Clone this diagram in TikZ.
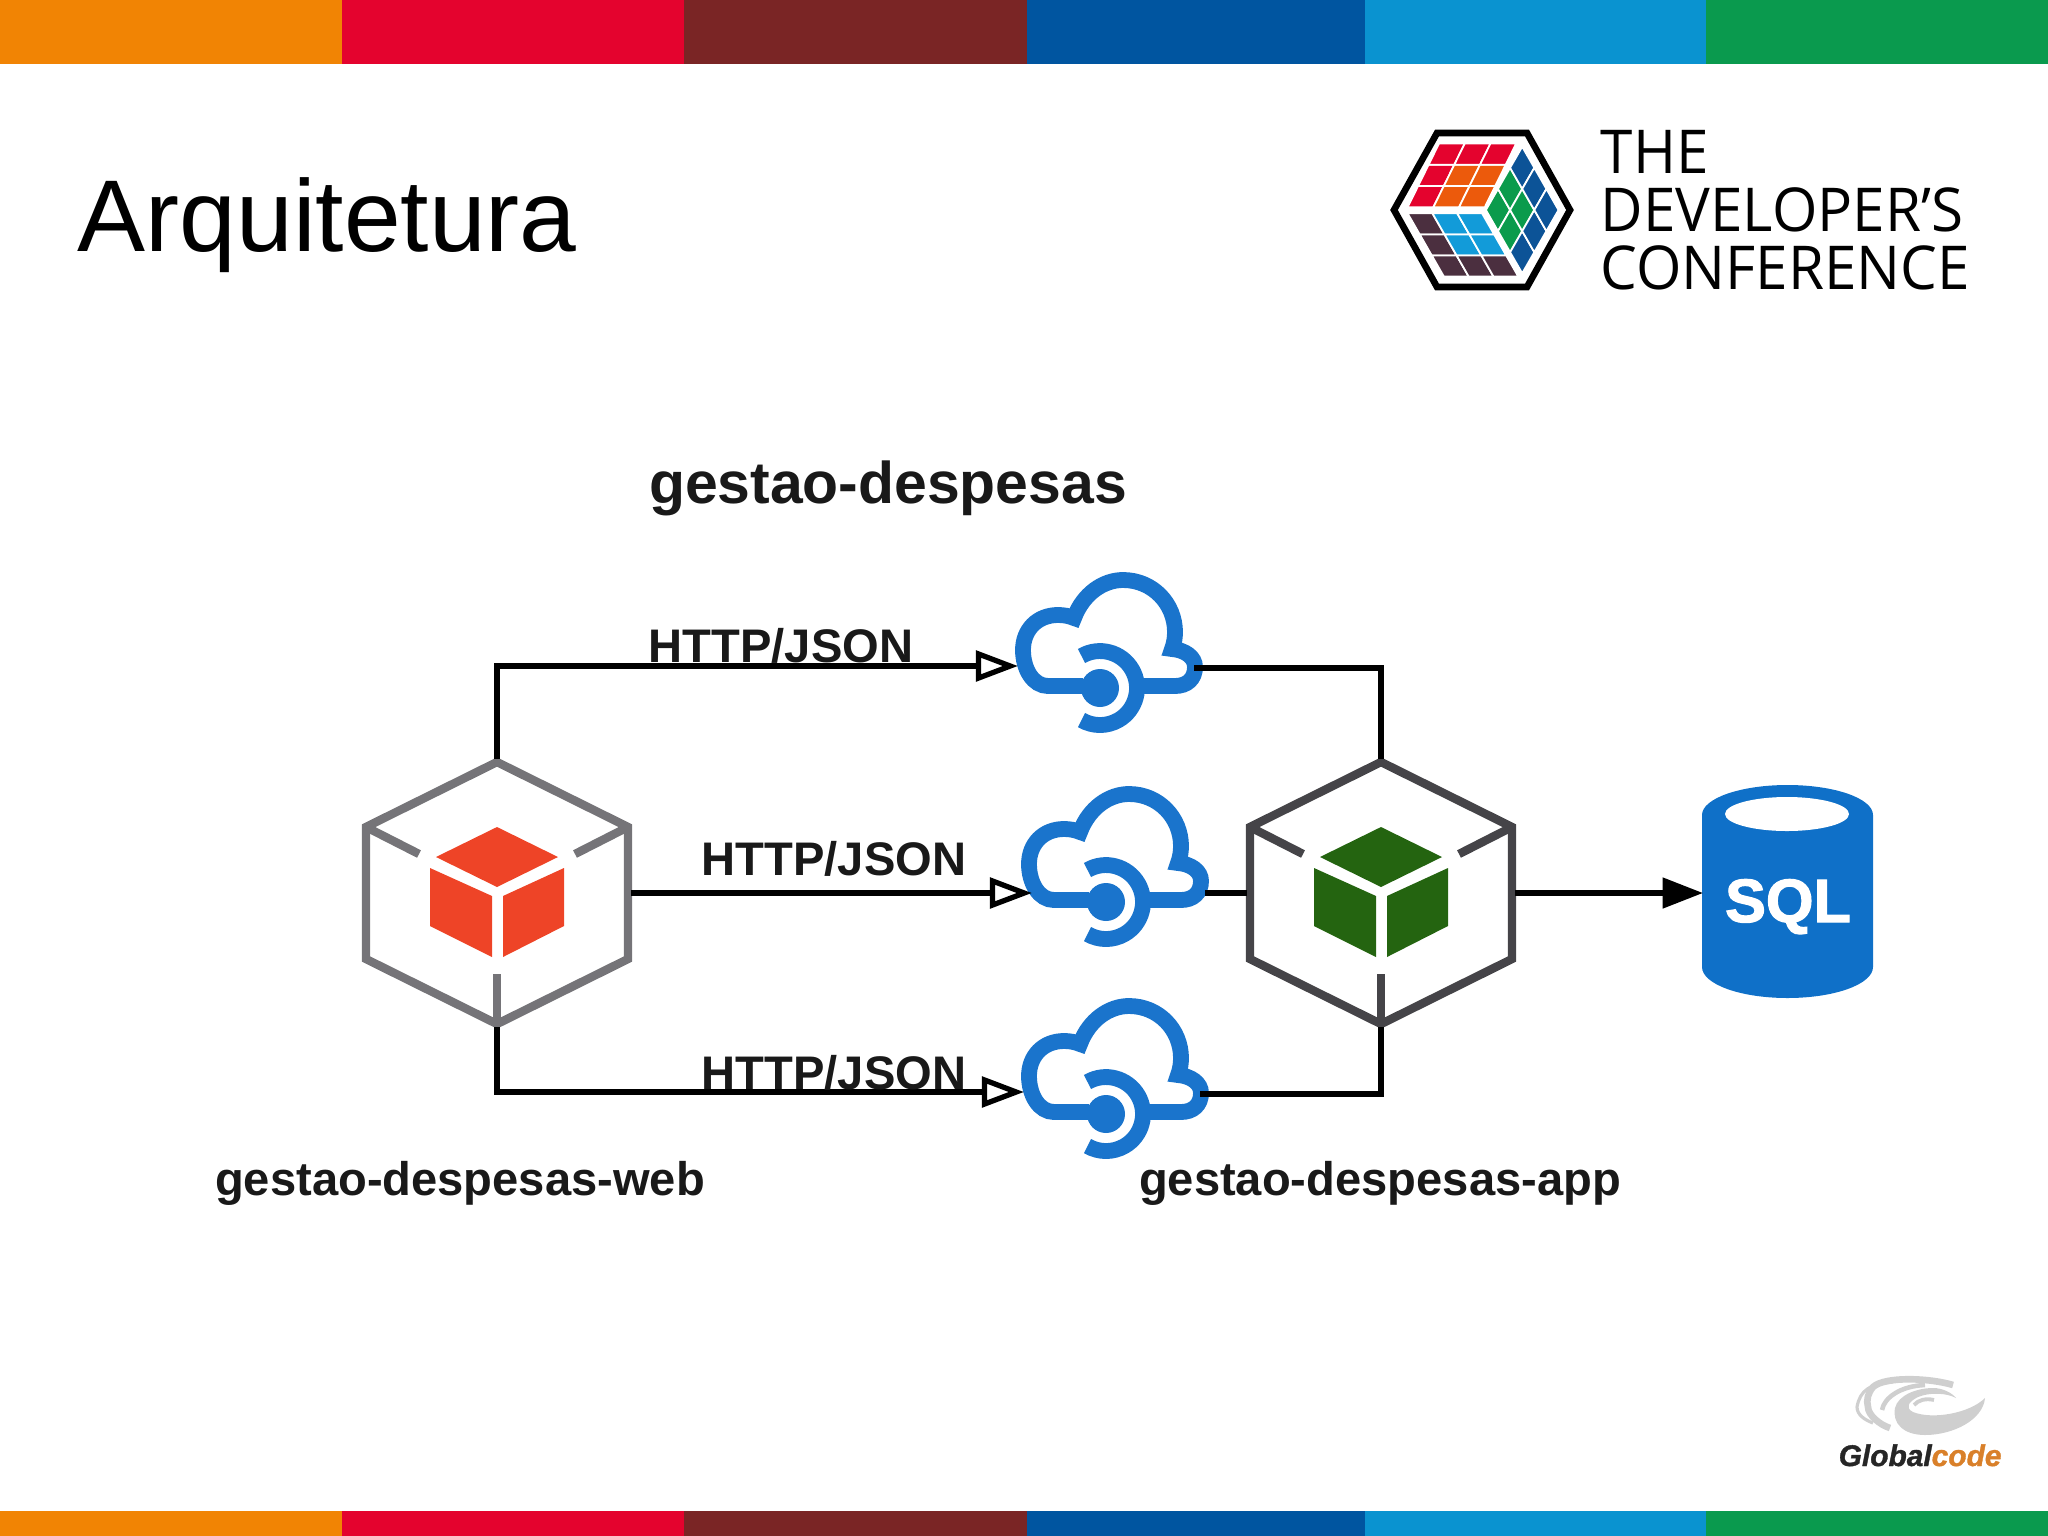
\documentclass[tikz,border=0pt]{standalone}
\usepackage{fontspec}
\setmainfont{Liberation Sans}
\newfontfamily\logofont{Open Sans}
\newfontfamily\sqlfont[FakeBold=2]{Liberation Sans Bold}
\newfontfamily\gcfont[FakeBold=1.2]{Liberation Sans Bold Italic}
\usepackage{xcolor}
\usepackage{tikz}
\usetikzlibrary{
  arrows.meta, positioning
}

% Stripe colours
\definecolor{barorange}{HTML}{F18404}
\definecolor{barred}{HTML}{E4032E}
\definecolor{barbrown}{HTML}{7A2525}
\definecolor{barblue}{HTML}{0055A0}
\definecolor{barcyan}{HTML}{0A93D0}
\definecolor{bargreen}{HTML}{0A9A4E}
% Logo colours
\definecolor{logoorange}{HTML}{EC5A0C}
\definecolor{logoplum}{HTML}{4B2F3F}
\definecolor{logosky}{HTML}{129BD9}
\definecolor{logogreen}{HTML}{0A9B4C}
\definecolor{logonavy}{HTML}{0C5397}
% Icon colours
\definecolor{azureblue}{HTML}{1A74CC}
\definecolor{sqlblue}{HTML}{0F70C8}
\definecolor{webgray}{HTML}{757478}
\definecolor{webred}{HTML}{EE4427}
\definecolor{appgray}{HTML}{454448}
\definecolor{appgreen}{HTML}{246410}
\definecolor{swirlgray}{HTML}{CFCFCF}
\definecolor{gcorange}{HTML}{D9802A}

\tikzset{
  labeltext/.style={font=\fontsize{13.4}{16}\selectfont\bfseries, text=black!90, inner sep=0pt, anchor=base},
  headtext/.style={font=\fontsize{16.75}{20}\selectfont\bfseries, text=black!90, inner sep=0pt, anchor=base},
  logotext/.style={font=\logofont\fontsize{17.2}{20}\selectfont, inner sep=0pt, anchor=base west},
  httpline/.style={line width=1.5pt, -{Triangle[open, fill=white, length=12pt, width=8.6pt]}},
  plainline/.style={line width=1.5pt},
  sqlline/.style={line width=1.5pt, -{Triangle[length=11.5pt, width=8.5pt]}},
  % box in a hexagonal frame: #1 frame colour, #2 fill colour
  pics/cubeicon/.style 2 args={code={
    \draw[#1, line width=2.4pt, line join=miter]
      (0,-131) -- (131,-66) -- (131,66) -- (0,131) -- (-131,66) -- (-131,-66) -- cycle;
    \draw[#1, line width=2.4pt] (-131,-66) -- (-78,-39);
    \draw[#1, line width=2.4pt] (131,-66) -- (78,-39);
    \draw[#1, line width=2.4pt] (0,131) -- (0,81);
    \fill[#2] (0,-66) -- (61,-36) -- (0,-6) -- (-61,-36) -- cycle;
    \fill[#2] (-67,-25) -- (-5,3) -- (-5,64) -- (-67,33) -- cycle;
    \fill[#2] (6,3) -- (67,-25) -- (67,33) -- (6,64) -- cycle;
    \coordinate (-n) at (0,-134);
    \coordinate (-e) at (134,0);
    \coordinate (-s) at (0,134);
    \coordinate (-w) at (-134,0);
  }},
  % cloud with a ring; origin is the centre of the dot
  pics/cloudicon/.style={code={
    \draw[azureblue, line width=4.5pt, line join=miter]
      (-17,-2) -- (-52,-2)
      .. controls (-67,-2) and (-77,-19) .. (-77,-38)
      .. controls (-77,-58) and (-63,-73) .. (-42,-73)
      .. controls (-36,-73) and (-31,-72) .. (-26,-70)
      .. controls (-17,-94) and (3,-108) .. (23,-108)
      .. controls (53,-108) and (75,-84) .. (75,-56)
      .. controls (75,-50) and (74,-44) .. (72,-39)
      .. controls (85,-38) and (95,-31) .. (95,-21)
      .. controls (95,-9) and (87,-2) .. (75,-2)
      -- (43,-2);
    \draw[azureblue, line width=4.5pt] (-18.5,-32) arc[start angle=-120, end angle=120, radius=37];
    \fill[azureblue] (0,0) circle (19);
    \coordinate (-w) at (-82,-22);
    \coordinate (-e) at (94,-20);
    \coordinate (-mw) at (-74,-9);
    \coordinate (-me) at (99,-9);
  }}
}

% one face of the logo cube: origin x y, first step x y, second step x y, cells
\newcommand{\logoface}[7]{
  \foreach \i/\j/\c in {#7} {
    \filldraw[fill=\c, draw=white, line width=0.5pt]
      ({#1+\i*#3+\j*#5},{#2+\i*#4+\j*#6})
      -- ({#1+(\i+1)*#3+\j*#5},{#2+(\i+1)*#4+\j*#6})
      -- ({#1+(\i+1)*#3+(\j+1)*#5},{#2+(\i+1)*#4+(\j+1)*#6})
      -- ({#1+\i*#3+(\j+1)*#5},{#2+\i*#4+(\j+1)*#6})
      -- cycle;
  }
}

\begin{document}
\begin{tikzpicture}[x=0.01cm, y=-0.01cm]
  \useasboundingbox (0,0) rectangle (2048,1536);

  % --- Stripes, top and bottom ----
  \foreach \xa/\xb/\c in {0/342/barorange, 342/684/barred, 684/1027/barbrown,
                          1027/1365/barblue, 1365/1706/barcyan, 1706/2048/bargreen} {
    \fill[\c] (\xa,0) rectangle (\xb,64);
    \fill[\c] (\xa,1511) rectangle (\xb,1536);
  }

  % Title
  \node[font=\fontsize{29}{34}\selectfont, inner sep=0pt, anchor=base west] (title) at (77,251) {Arquitetura};

  % Conference logo
  \draw[line width=1.9pt, line join=miter] (1437,133) -- (1527,133) -- (1570,210) -- (1527,287) -- (1437,287) -- (1394,210) -- cycle;
  \logoface{1407.6}{207.3}{25.7}{0}{10.5}{-21.3}{0/0/barred, 1/0/logoorange, 2/0/logoorange,
    0/1/barred, 1/1/logoorange, 2/1/logoorange, 0/2/barred, 1/2/barred, 2/2/barred}
  \logoface{1407.6}{213.3}{24.8}{0}{12.1}{21.1}{0/0/logoplum, 1/0/logosky, 2/0/logosky,
    0/1/logoplum, 1/1/logosky, 2/1/logosky, 0/2/logoplum, 1/2/logoplum, 2/2/logoplum}
  \logoface{1485.9}{210}{12.1}{-21.1}{12.1}{21.1}{0/0/logogreen, 1/0/logogreen, 2/0/logonavy,
    0/1/logogreen, 1/1/logogreen, 2/1/logonavy, 0/2/logonavy, 1/2/logonavy, 2/2/logonavy}
  \node[logotext] (logoa) at (1600,173) {\scalebox{0.965}[1]{THE}};
  \node[logotext] (logob) at (1600,231) {\scalebox{0.965}[1]{DEVELOPER’S}};
  \node[logotext] (logoc) at (1600,289) {\scalebox{0.965}[1]{CONFERENCE}};

  % --- Diagram ----
  \node[headtext] (system) at (888,503) {gestao-despesas};

  \pic (web) at (497,893) {cubeicon={webgray}{webred}};
  \pic (app) at (1381,893) {cubeicon={appgray}{appgreen}};
  \pic (cloudA) at (1100,688) {cloudicon};
  \pic (cloudB) at (1106,902) {cloudicon};
  \pic (cloudC) at (1106,1114) {cloudicon};

  % Database
  \fill[sqlblue] (1702,815) arc[start angle=180, end angle=360, x radius=85.5, y radius=30]
    -- (1873,967) arc[start angle=0, end angle=180, x radius=85.5, y radius=31] -- cycle;
  \fill[white] (1787,814) ellipse (62 and 17);
  \node[font=\sqlfont\fontsize{17.4}{20}\selectfont, text=white, inner sep=0pt, anchor=base] (sqlname) at (1788,922) {SQL};
  \coordinate (sqlport) at (1703,893);

  % Connectors
  \draw[httpline] (web-n) |- (cloudA-w);
  \draw[httpline] (web-e) -- (cloudB-mw);
  \draw[httpline] (web-s) |- (cloudC-w);
  \draw[plainline] (cloudA-e) -| (app-n);
  \draw[plainline] (cloudB-me) -- (app-w);
  \draw[plainline] (cloudC-e) -| (app-s);
  \draw[sqlline] (app-e) -- (sqlport);

  % Labels
  \node[labeltext] (labela) at (781,662) {HTTP/JSON};
  \node[labeltext] (labelb) at (834,875) {HTTP/JSON};
  \node[labeltext] (labelc) at (834,1089) {HTTP/JSON};
  \node[labeltext] (webname) at (460,1195) {gestao-despesas-web};
  \node[labeltext] (appname) at (1380,1195) {gestao-despesas-app};

  % Sponsor logo
  \draw[swirlgray, line width=0.9pt] (1893,1382) .. controls (1870,1384) and (1860,1390) .. (1857,1407)
    .. controls (1857,1415) and (1865,1420) .. (1873,1423);
  \draw[swirlgray, line width=1.9pt] (1953,1385) .. controls (1930,1378) and (1885,1376) .. (1873,1387)
    .. controls (1868,1393) and (1866,1400) .. (1868,1407)
    .. controls (1868,1415) and (1880,1425) .. (1890,1428);
  \draw[swirlgray, line width=1.3pt] (1882,1410) .. controls (1884,1398) and (1900,1386) .. (1925,1385);
  \fill[swirlgray] (1985,1398) .. controls (1983,1420) and (1953,1435) .. (1925,1435)
    .. controls (1903,1435) and (1892,1423) .. (1895,1408)
    .. controls (1898,1395) and (1917,1388) .. (1933,1388)
    .. controls (1943,1388) and (1952,1393) .. (1956,1398)
    .. controls (1947,1393) and (1930,1392) .. (1918,1397)
    .. controls (1908,1402) and (1905,1408) .. (1913,1412)
    .. controls (1933,1420) and (1970,1413) .. (1985,1398) -- cycle;
  \draw[swirlgray, line width=1.1pt] (1914,1405) .. controls (1918,1400) and (1926,1398) .. (1934,1400);
  \node[font=\gcfont\fontsize{8.5}{10}\selectfont, text=black!85, inner sep=0pt, anchor=base west] (gcname) at (1838,1466)
    {Global\textcolor{gcorange}{code}};
\end{tikzpicture}
\end{document}
